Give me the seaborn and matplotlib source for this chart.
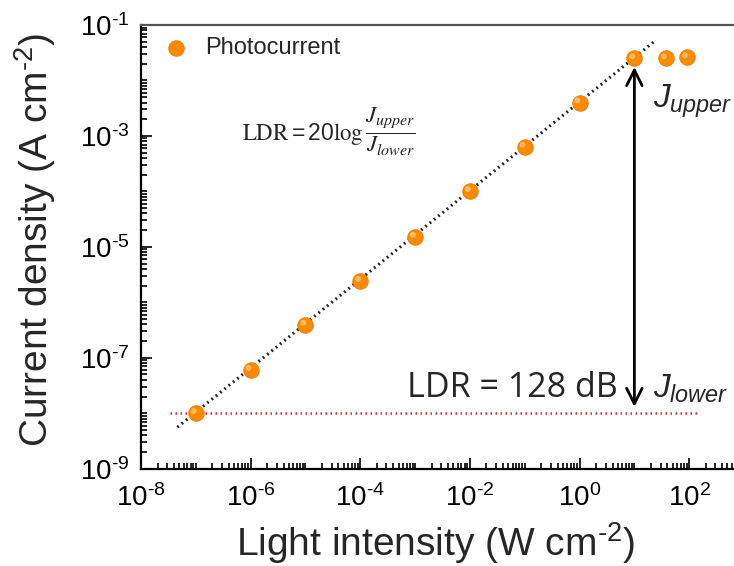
import numpy as np
import pandas as pd
import matplotlib
matplotlib.use("Agg")
import matplotlib.pyplot as plt
import matplotlib.transforms as mtransforms
from matplotlib.ticker import LogLocator, FixedLocator, FixedFormatter, NullFormatter
import seaborn as sns

# Photocurrent density versus incident light intensity
intensity = [1e-7, 1e-6, 1e-5, 1e-4, 1e-3, 1e-2, 1e-1, 1.0, 10.0, 38.0, 92.0]
current = [1.0e-8, 6.0e-8, 3.9e-7, 2.4e-6, 1.5e-5, 1.0e-4, 6.3e-4, 4.0e-3, 2.5e-2, 2.5e-2, 2.6e-2]

# Linear fit (log-log) endpoints
fit_x = [4.6e-8, 24.0]
fit_y = [5.6e-9, 5.2e-2]

# Noise floor (lower detection limit)
floor_x = [3.4e-8, 160.0]
floor_y = [1.0e-8, 1.0e-8]

# Dynamic range arrow
arrow_x = 10.0
arrow_top = 1.75e-2
arrow_bottom = 1.3e-8

ldr_db = 128

# Major ticks and their labels
x_ticks = [1e-8, 1e-6, 1e-4, 1e-2, 1e0, 1e2]
x_tick_labels = [r"10$^{\text{-8}}$", r"10$^{\text{-6}}$", r"10$^{\text{-4}}$",
                 r"10$^{\text{-2}}$", r"10$^{0}$", r"10$^{2}$"]
y_ticks = [1e-9, 1e-7, 1e-5, 1e-3, 1e-1]
y_tick_labels = [r"10$^{\text{-9}}$", r"10$^{\text{-7}}$", r"10$^{\text{-5}}$",
                 r"10$^{\text{-3}}$", r"10$^{\text{-1}}$"]

sns.set_style("ticks")
plt.rcParams["font.family"] = ["Liberation Sans", "DejaVu Sans"]
plt.rcParams["mathtext.fontset"] = "custom"
plt.rcParams["mathtext.rm"] = "Liberation Sans"
plt.rcParams["mathtext.it"] = "Liberation Sans:italic"
plt.rcParams["mathtext.bf"] = "Liberation Sans:bold"
plt.rcParams["mathtext.default"] = "regular"
plt.rcParams["axes.unicode_minus"] = False

fig = plt.figure(figsize=(7.34, 5.66), dpi=100)
ax = fig.add_axes([141 / 734, (566 - 468.7) / 566, 603 / 734, 443.7 / 566])

df = pd.DataFrame({"intensity": intensity, "current": current})

# fit line and noise floor
sns.lineplot(x=fit_x, y=fit_y, ax=ax, color="#222222", lw=2.2,
             linestyle=(0, (0.6, 1.2)), zorder=2)
sns.lineplot(x=floor_x, y=floor_y, ax=ax, color="#e3262a", lw=1.8,
             linestyle=(0, (0.6, 1.4)), zorder=2)

# data points (orange spheres with a light highlight)
sns.scatterplot(data=df, x="intensity", y="current", ax=ax, s=125,
                color="#ff8a00", edgecolor="#f07800", linewidth=0.6,
                label="Photocurrent", zorder=3)
hl = mtransforms.offset_copy(ax.transData, fig=fig, x=-1.6, y=1.6, units="points")
ax.scatter(df["intensity"], df["current"], s=18, color="#ffc070",
           edgecolor="none", transform=hl, zorder=4, alpha=0.9)

ax.set_xscale("log")
ax.set_yscale("log")
ax.set_xlim(1e-8, 1e3)
ax.set_ylim(1e-9, 1e-1)

ax.xaxis.set_major_locator(FixedLocator(x_ticks))
ax.xaxis.set_major_formatter(FixedFormatter(x_tick_labels))
ax.yaxis.set_major_locator(FixedLocator(y_ticks))
ax.yaxis.set_major_formatter(FixedFormatter(y_tick_labels))
ax.xaxis.set_minor_locator(LogLocator(base=10, subs=np.arange(1, 10), numticks=40))
ax.yaxis.set_minor_locator(LogLocator(base=10, subs=np.arange(1, 10), numticks=40))
ax.xaxis.set_minor_formatter(NullFormatter())
ax.yaxis.set_minor_formatter(NullFormatter())

ax.tick_params(which="both", direction="in", top=False, right=False,
               colors="black", labelsize=20, width=1.2)
ax.tick_params(which="major", length=8)
ax.tick_params(axis="x", which="major", pad=11)
ax.tick_params(axis="y", which="major", pad=8)
ax.tick_params(which="minor", length=4)

for side in ("left", "bottom"):
    ax.spines[side].set_linewidth(1.6)
    ax.spines[side].set_color("black")
ax.spines["top"].set_color("#555555")
ax.spines["top"].set_linewidth(1.6)
ax.spines["right"].set_visible(False)

ax.set_xlabel(r"Light intensity (W cm$^{\text{-2}}$)", fontsize=28)
ax.set_ylabel(r"Current density (A cm$^{\text{-2}}$)", fontsize=28)
ax.xaxis.set_label_coords(0.488, -0.116)
ax.yaxis.set_label_coords(-0.138, 0.515)

leg = ax.legend(loc="upper left", frameon=False, fontsize=17,
                handletextpad=0.2, borderaxespad=0.2, borderpad=0.3)

# dynamic range arrow and labels
ax.annotate("", xy=(arrow_x, arrow_top), xytext=(arrow_x, arrow_bottom),
            arrowprops=dict(arrowstyle="<->", lw=2, color="black",
                            mutation_scale=28, shrinkA=0, shrinkB=0))
ax.text(22, 4.3e-3, r"$\mathit{J}_{\mathit{upper}}$", fontsize=24, ha="left", va="center")
ax.text(22, 2.8e-8, r"$\mathit{J}_{\mathit{lower}}$", fontsize=24, ha="left", va="center")
ax.text(5.0, 2.8e-8, f"LDR = {ldr_db} dB", fontsize=24.5, ha="right", va="center",
        family=["Open Sans", "DejaVu Sans"])
ax.text(7e-7, 1.2e-3,
        r"$\mathrm{LDR}=20\log\dfrac{\mathit{J}_{\mathit{upper}}}{\mathit{J}_{\mathit{lower}}}$",
        fontsize=16.5, ha="left", va="center", math_fontfamily="stix")

fig.savefig("out.png", dpi=100)
